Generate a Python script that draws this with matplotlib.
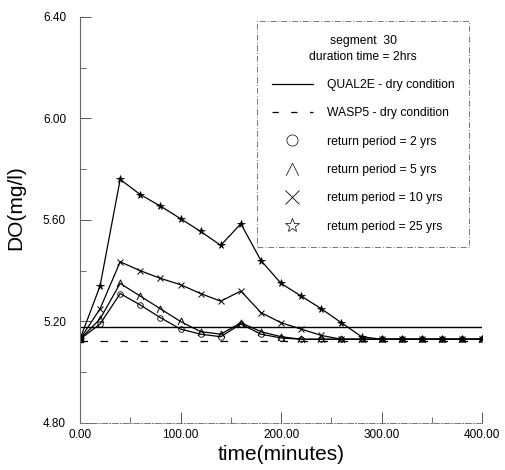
import matplotlib
matplotlib.use("Agg")
import matplotlib.pyplot as plt
from matplotlib.lines import Line2D
from matplotlib.path import Path
from matplotlib.ticker import MultipleLocator, FormatStrFormatter

plt.rcParams['font.family'] = ['Liberation Sans', 'DejaVu Sans']

time_min = [0, 20, 40, 60, 80, 100, 120, 140, 160, 180, 200, 220, 240, 260, 280,
            300, 320, 340, 360, 380, 400]
do_rp2 = [5.13, 5.19, 5.31, 5.265, 5.215, 5.17, 5.15, 5.14, 5.19, 5.15, 5.135, 5.13,
          5.13, 5.13, 5.13, 5.13, 5.13, 5.13, 5.13, 5.13, 5.13]
do_rp5 = [5.13, 5.21, 5.35, 5.30, 5.25, 5.20, 5.16, 5.15, 5.195, 5.16, 5.14, 5.13,
          5.13, 5.13, 5.13, 5.13, 5.13, 5.13, 5.13, 5.13, 5.13]
do_rp10 = [5.13, 5.25, 5.435, 5.40, 5.37, 5.345, 5.31, 5.28, 5.32, 5.235, 5.195, 5.17,
           5.145, 5.13, 5.13, 5.13, 5.13, 5.13, 5.13, 5.13, 5.13]
do_rp25 = [5.13, 5.34, 5.76, 5.70, 5.655, 5.605, 5.555, 5.50, 5.585, 5.44, 5.35, 5.30,
           5.25, 5.195, 5.14, 5.13, 5.13, 5.13, 5.13, 5.13, 5.13]
qual2e_dry = 5.18
wasp5_dry = 5.125

fig = plt.figure(figsize=(5.06, 4.70), dpi=100)
ax = fig.add_axes([0.158, 0.10, 0.795, 0.864])

ax.plot([0, 400], [qual2e_dry, qual2e_dry], color='black', lw=1.0)
ax.plot([0, 400], [wasp5_dry, wasp5_dry], color='black', lw=0.9, dashes=(6, 10))

vee = Path([(-1, -1), (0, 1), (1, -1)], [Path.MOVETO, Path.LINETO, Path.LINETO])

ax.plot(time_min, do_rp2, color='black', lw=0.9, marker='o', ms=4, mfc='none', mew=0.6)
ax.plot(time_min, do_rp5, color='black', lw=0.9, marker=vee, ms=5, mfc='none', mew=0.7)
ax.plot(time_min, do_rp10, color='black', lw=0.9, marker='x', ms=5, mew=0.7)
ax.plot(time_min, do_rp25, color='black', lw=0.9, marker='*', ms=5.5, mfc='black', mew=0.5)
ax.plot([0], [do_rp2[0]], marker='s', color='black', ms=4)

ax.set_xlim(0, 400)
ax.set_ylim(4.80, 6.40)
ax.xaxis.set_major_locator(MultipleLocator(100))
ax.xaxis.set_minor_locator(MultipleLocator(50))
ax.yaxis.set_major_locator(MultipleLocator(0.4))
ax.yaxis.set_minor_locator(MultipleLocator(0.2))
ax.xaxis.set_major_formatter(FormatStrFormatter('%.2f'))
ax.yaxis.set_major_formatter(FormatStrFormatter('%.2f'))
ax.tick_params(axis='both', which='both', direction='in', labelsize=8.5, color='#555555')
ax.tick_params(axis='both', which='major', length=8, width=0.7)
ax.tick_params(axis='both', which='minor', length=4, width=0.6)
ax.tick_params(axis='x', pad=4)
ax.tick_params(axis='y', pad=10)
for s in ['top', 'right']:
    ax.spines[s].set_visible(False)
ax.spines['left'].set_color('#666666')
ax.spines['left'].set_linewidth(0.8)
ax.spines['bottom'].set_color('#777777')
ax.spines['bottom'].set_linewidth(0.7)
ax.spines['bottom'].set_linestyle((0, (6, 2, 1, 2)))

ax.set_xlabel('time(minutes)', fontsize=15, labelpad=3)
ax.set_ylabel('DO(mg/l)', fontsize=15, labelpad=12)
ax.yaxis.set_label_coords(-0.135, 0.53)

handles = [
    Line2D([], [], color='black', lw=0.9),
    Line2D([], [], color='black', lw=0.9, dashes=(5, 10)),
    Line2D([], [], ls='none', marker='o', ms=8, mfc='none', mec='black', mew=0.5),
    Line2D([], [], ls='none', marker=vee, ms=9, mfc='none', mec='black', mew=0.5),
    Line2D([], [], ls='none', marker='x', ms=10, mec='black', mew=0.6),
    Line2D([], [], ls='none', marker='*', ms=10, mfc='none', mec='black', mew=0.5),
]
labels = ['QUAL2E - dry condition', 'WASP5 - dry condition', 'return period = 2 yrs',
          'return period = 5 yrs', 'retum period = 10 yrs', 'retum period = 25 yrs']
leg = fig.legend(handles, labels, loc='upper left', bbox_to_anchor=(0.508, 0.956),
                 bbox_transform=fig.transFigure, fontsize=8.7,
                 title='segment  30\nduration time = 2hrs', title_fontsize=8.7,
                 handlelength=3.4, handletextpad=1.2, labelspacing=1.35,
                 borderpad=1.2, fancybox=False, frameon=True, borderaxespad=0)
fr = leg.get_frame()
fr.set_edgecolor('#555555')
fr.set_linewidth(0.7)
fr.set_linestyle((0, (6, 2, 1, 2)))
leg.get_title().set_multialignment('center')
leg.get_title().set_linespacing(1.4)

fig.savefig('out.png', dpi=100)
